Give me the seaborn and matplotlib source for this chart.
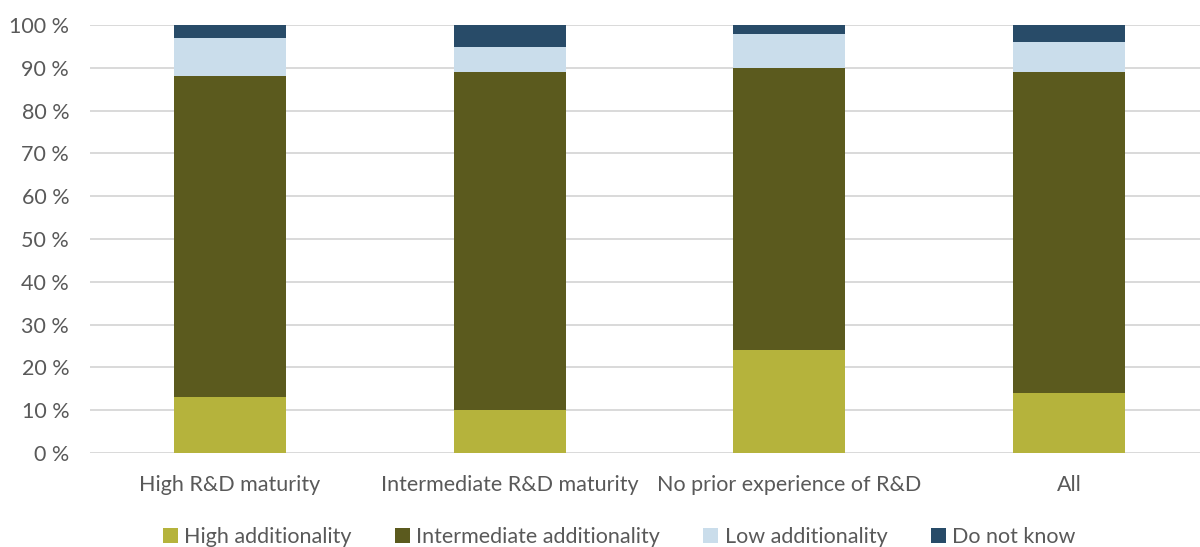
import matplotlib
matplotlib.use("Agg")
import matplotlib.pyplot as plt
from matplotlib.patches import Patch
from matplotlib.ticker import MultipleLocator, FuncFormatter
import numpy as np
import pandas as pd
import seaborn as sns

# Share of respondents (%) per R&D maturity group
categories = ["High R&D maturity", "Intermediate R&D maturity",
              "No prior experience of R&D", "All"]
high_add = [13, 10, 24, 14]
intermediate_add = [75, 79, 66, 75]
low_add = [9, 6, 8, 7]
do_not_know = [3, 5, 2, 4]

series_names = ["High additionality", "Intermediate additionality",
                "Low additionality", "Do not know"]
series_values = [high_add, intermediate_add, low_add, do_not_know]
colors = ["#B5B33C", "#5B5A1E", "#CADDEB", "#284B68"]

sns.set_theme(style="white")
plt.rcParams["font.family"] = ["Lato", "DejaVu Sans"]

fig = plt.figure(figsize=(12, 5.47), dpi=100)
ax = fig.add_axes([0.075, 0.172, 0.9325, 0.782])

# Stacked bars: draw cumulative totals from the top segment down
cum = np.cumsum(np.array(series_values, dtype=float), axis=0)
for i in range(len(series_names) - 1, -1, -1):
    df = pd.DataFrame({"category": categories, "value": cum[i]})
    sns.barplot(data=df, x="category", y="value", order=categories,
                color=colors[i], saturation=1, width=0.4,
                linewidth=0, ax=ax, zorder=3)

ax.set_ylim(0, 100)
ax.set_xlim(-0.5, len(categories) - 0.5)
ax.yaxis.set_major_locator(MultipleLocator(10))
ax.yaxis.set_major_formatter(FuncFormatter(lambda v, p: f"{int(v)} %"))
ax.grid(axis="y", color="#D9D9D9", linewidth=1.4, zorder=0)
ax.set_axisbelow(True)
for s in ax.spines.values():
    s.set_visible(False)
ax.set_xlabel("")
ax.set_ylabel("")
ax.tick_params(axis="both", length=0, labelsize=15.5, labelcolor="#595959")
ax.tick_params(axis="x", pad=16)
ax.tick_params(axis="y", pad=15)

handles = [Patch(facecolor=c, edgecolor="none") for c in colors]
fig.legend(handles, series_names, loc="center", bbox_to_anchor=(0.516, 0.018),
           ncol=4, frameon=False, fontsize=15.5, labelcolor="#595959",
           handlelength=0.7, handleheight=0.7, handletextpad=0.3,
           columnspacing=2.0)

fig.savefig("out.png", dpi=100, facecolor="white")
